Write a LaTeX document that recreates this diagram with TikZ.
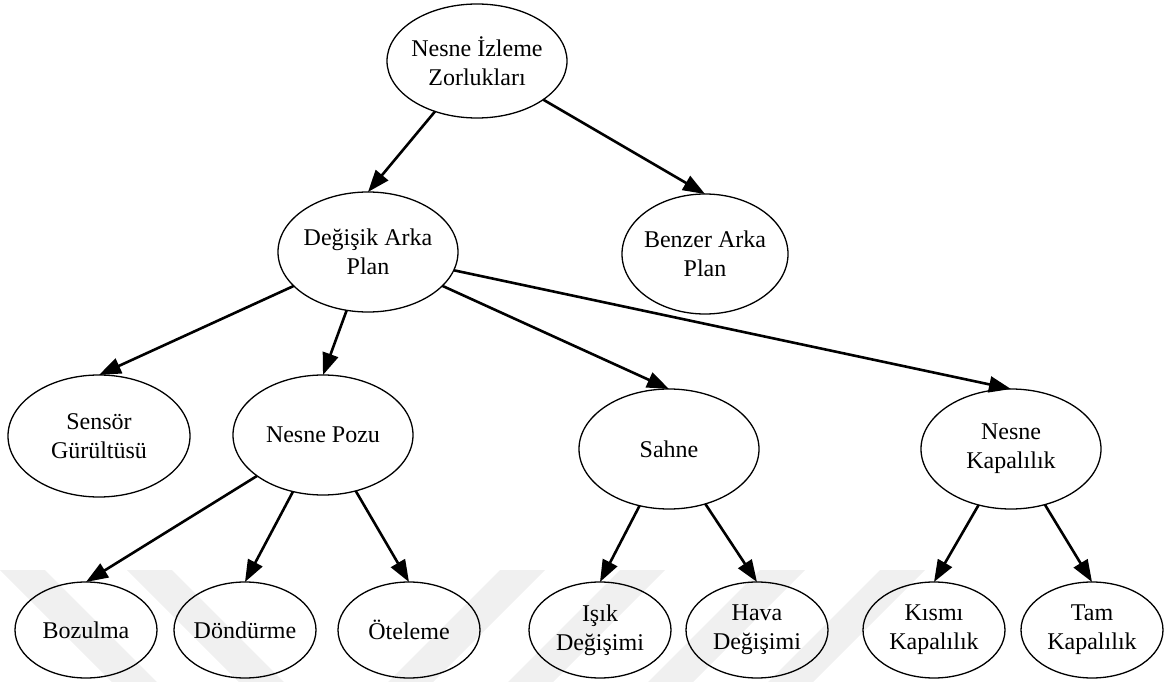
\documentclass[tikz,border=0pt]{standalone}
\usepackage{fontspec}
\setmainfont{Liberation Serif}
\usetikzlibrary{shapes.geometric,arrows.meta}
\newcommand\nodefont{\fontsize{24pt}{29pt}\selectfont}
\tikzset{
  ell/.style={draw, ellipse, line width=1.3pt, inner sep=0pt, outer sep=0pt},
  big/.style={ell, minimum width=180pt, minimum height=120pt},
  small/.style={ell, minimum width=142pt, minimum height=96pt},
  txt/.style={font=\nodefont, align=center, inner sep=0pt},
  link/.style={line width=2.6pt, -{Triangle[length=22pt,width=16pt]}},
  band/.style={fill=black!6, draw=none}
}
\begin{document}
\begin{tikzpicture}[x=1pt, y=-1pt]
  \useasboundingbox (0,0) rectangle (1171,682);

  % faint diagonal stripes along the bottom edge
  \foreach \t in {0,127}
    \fill[band] (\t,570) -- (\t+45,570) -- (\t+157,682) -- (\t+112,682) -- cycle;
  \foreach \t in {500,620,760,880}
    \fill[band] (\t,570) -- (\t+45,570) -- (\t-67,682) -- (\t-112,682) -- cycle;

  % level 0
  \node[big, minimum height=114pt, label={[txt]center:Nesne İzleme\\Zorlukları}] (izleme) at (477,61) {};
  % level 1
  \node[big, label={[txt]center:Değişik Arka\\Plan}] (degisik) at (368,252) {};
  \node[big, minimum width=166pt, label={[txt]center:Benzer Arka\\Plan}] (benzer) at (705,254) {};
  % level 2
  \node[big, minimum width=182pt, minimum height=122pt, label={[txt]center:Sensör\\Gürültüsü}] (sensor) at (99,436) {};
  \node[big, label={[txt]center:Nesne Pozu}] (pozu) at (323,435) {};
  \node[big, label={[txt]center:Sahne}] (sahne) at (669,449) {};
  \node[big, label={[txt]center:Nesne\\Kapalılık}] (kapali) at (1011,449) {};
  % level 3
  \node[small, label={[txt]center:Bozulma}] (bozulma) at (86,630) {};
  \node[small, label={[txt]center:Döndürme}] (dondurme) at (245,630) {};
  \node[small, label={[txt]center:Öteleme}] (oteleme) at (409,630) {};
  \node[small, label={[txt]center:Işık\\Değişimi}] (isik) at (600,630) {};
  \node[small, label={[txt]center:Hava\\Değişimi}] (hava) at (757,630) {};
  \node[small, label={[txt]center:Kısmı\\Kapalılık}] (kismi) at (934,630) {};
  \node[small, label={[txt]center:Tam\\Kapalılık}] (tam) at (1092,630) {};

  % connectors
  \draw[link] (izleme) -- (degisik.north);
  \draw[link] (izleme) -- (benzer.north);
  \draw[link] (degisik) -- (sensor.north);
  \draw[link] (degisik) -- (pozu.north);
  \draw[link] (degisik) -- (sahne.north);
  \draw[link] (degisik) -- (kapali.north);
  \draw[link] (pozu) -- (bozulma.north);
  \draw[link] (pozu) -- (dondurme.north);
  \draw[link] (pozu) -- (oteleme.north);
  \draw[link] (sahne) -- (isik.north);
  \draw[link] (sahne) -- (hava.north);
  \draw[link] (kapali) -- (kismi.north);
  \draw[link] (kapali) -- (tam.north);
\end{tikzpicture}
\end{document}
